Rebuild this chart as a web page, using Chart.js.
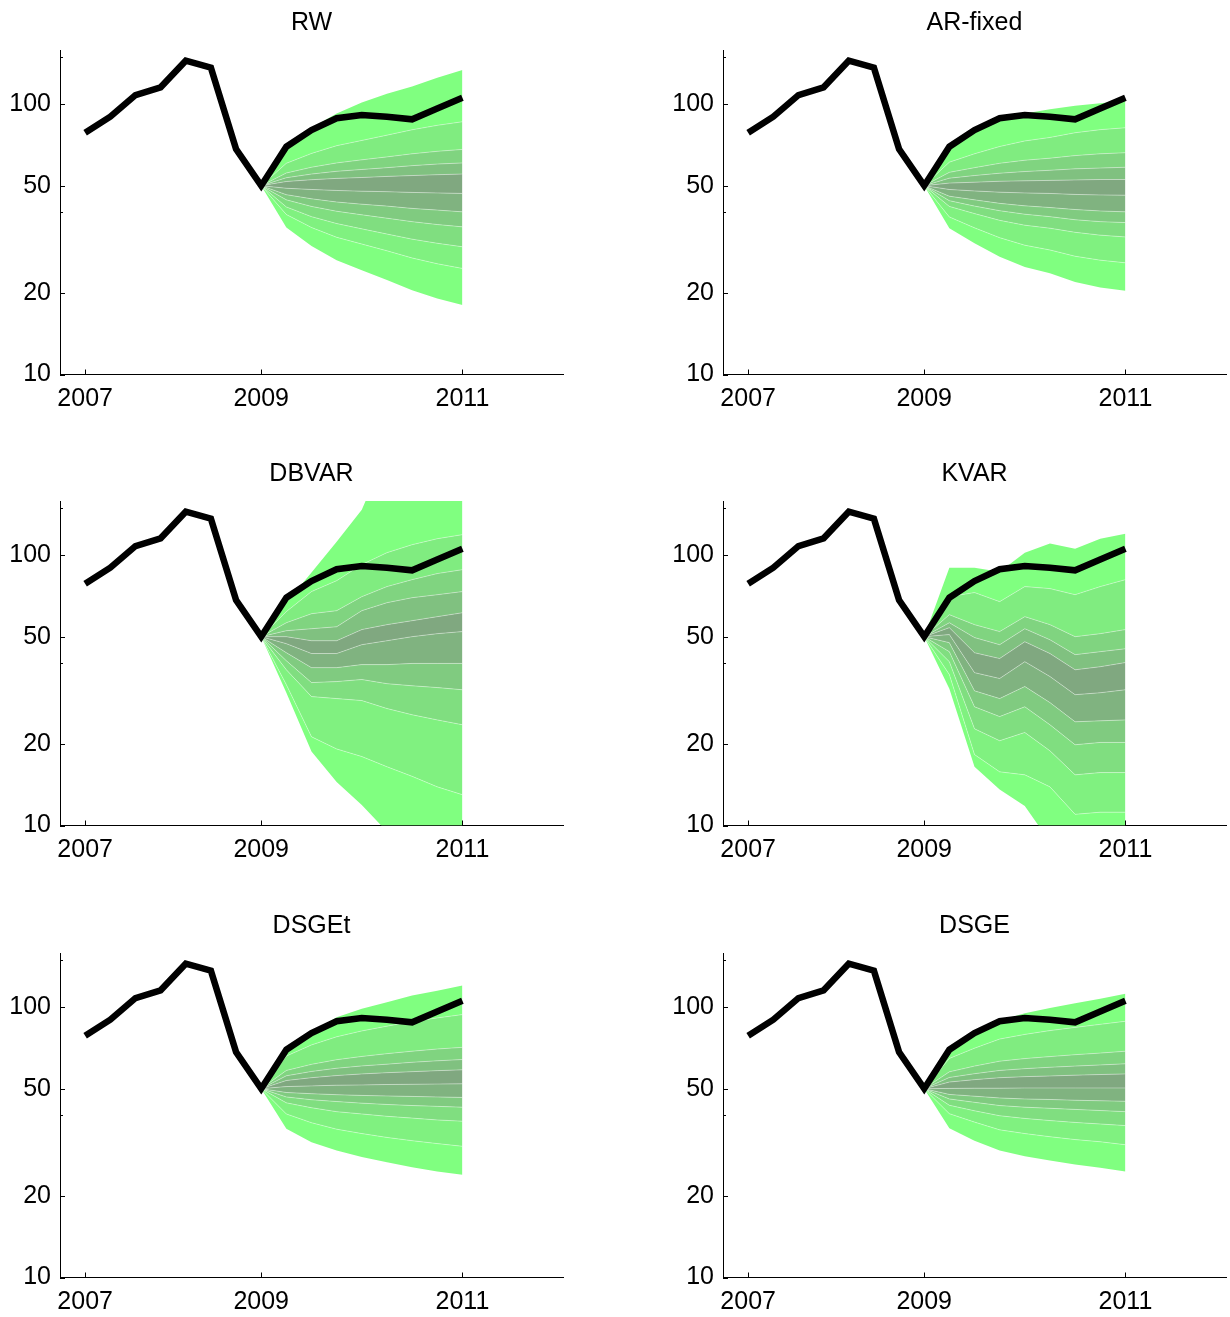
<!DOCTYPE html>
<html><head><meta charset="utf-8">
<script src="https://cdn.jsdelivr.net/npm/chart.js@4.4.0/dist/chart.umd.min.js"></script>
<style>
html,body{margin:0;padding:0;background:#fff;overflow:hidden;width:1230px;height:1317px;}
.panel{position:absolute;width:567px;height:451px;}
canvas{display:block;}
</style></head><body>
<div class="panel" style="left:0px;top:0px"><canvas id="c0" width="567" height="451"></canvas></div>
<div class="panel" style="left:663px;top:0px"><canvas id="c1" width="567" height="451"></canvas></div>
<div class="panel" style="left:0px;top:451px"><canvas id="c2" width="567" height="451"></canvas></div>
<div class="panel" style="left:663px;top:451px"><canvas id="c3" width="567" height="451"></canvas></div>
<div class="panel" style="left:0px;top:903px"><canvas id="c4" width="567" height="451"></canvas></div>
<div class="panel" style="left:663px;top:903px"><canvas id="c5" width="567" height="451"></canvas></div>
<script>
// ---------- data ----------
const quarters = [0,1,2,3,4,5,6,7,8,9,10,11,12,13,14,15];
const actual = [78.5, 90.0, 108.2, 115.6, 145.0, 136.6, 68.3, 50.0, 69.7, 80.3, 88.8, 91.3, 90.0, 88.0, 96.6, 105.8];
const fanX = [7,8,9,10,11,12,13,14,15];
const xTickPos = [0, 7, 15];
const xTickLabels = ['2007','2009','2011'];
const yMajorTicks = [10, 20, 50, 100];
const yMinorTicks = [40, 150];
const panelTitles = ['RW','AR-fixed','DBVAR','KVAR','DSGEt','DSGE'];

// fan edges, lowest to highest, one row per edge, values at fanX
const rwBands = [
  [50, 35.0, 29.9, 26.5, 24.3, 22.4, 20.5, 19.1, 18.1],
  [50, 39.1, 35.0, 32.2, 30.4, 28.7, 27.0, 25.7, 24.7],
  [50, 41.7, 38.4, 36.2, 34.6, 33.1, 31.7, 30.6, 29.7],
  [50, 44.3, 41.9, 40.2, 39.0, 37.9, 36.8, 35.9, 35.2],
  [50, 46.3, 44.7, 43.5, 42.7, 42.0, 41.2, 40.6, 40.0],
  [50, 48.9, 48.4, 48.0, 47.7, 47.5, 47.2, 47.0, 46.8],
  [50, 51.8, 52.6, 53.2, 53.6, 54.1, 54.5, 54.9, 55.2],
  [50, 53.5, 55.2, 56.5, 57.4, 58.3, 59.3, 60.1, 60.7],
  [50, 55.7, 58.5, 60.7, 62.3, 63.9, 65.6, 67.0, 68.1],
  [50, 60.5, 65.8, 70.3, 73.5, 76.9, 80.5, 83.6, 86.2],
  [50, 70.3, 81.9, 92.4, 101.5, 109.5, 116.3, 125.5, 134.0]
];
const arBands = [
  [50, 34.8, 30.6, 27.3, 25.0, 23.7, 22.0, 21.0, 20.4],
  [50, 38.3, 34.9, 32.1, 30.1, 28.9, 27.4, 26.5, 25.9],
  [50, 41.9, 39.4, 37.2, 35.7, 34.8, 33.6, 32.8, 32.3],
  [50, 44.0, 42.0, 40.4, 39.2, 38.4, 37.4, 36.8, 36.5],
  [50, 45.7, 44.3, 43.0, 42.1, 41.5, 40.8, 40.3, 40.0],
  [50, 48.4, 47.8, 47.3, 47.0, 46.8, 46.4, 46.2, 46.1],
  [50, 51.1, 51.5, 51.9, 52.1, 52.3, 52.5, 52.7, 52.7],
  [50, 53.3, 54.5, 55.6, 56.4, 57.0, 57.7, 58.1, 58.5],
  [50, 56.0, 58.3, 60.5, 62.1, 63.2, 64.6, 65.6, 66.2],
  [50, 61.1, 65.6, 69.8, 73.2, 75.4, 78.5, 80.6, 81.9],
  [50, 69.1, 79.3, 87.0, 92.4, 96.0, 98.9, 101.0, 103.2]
];
const dbvarBands = [
  [50, 31.0, 18.8, 14.5, 11.9, 9.5, 8.0, 7.0, 6.2],
  [50, 33.2, 21.3, 19.2, 18.0, 16.5, 15.2, 13.9, 13.0],
  [50, 37.7, 30.0, 29.5, 29.0, 27.1, 25.7, 24.6, 23.6],
  [50, 40.7, 33.8, 34.1, 34.7, 33.5, 32.9, 32.4, 31.8],
  [50, 43.6, 38.4, 38.4, 39.4, 39.4, 39.8, 39.8, 39.8],
  [50, 47.1, 43.3, 43.3, 46.7, 48.3, 50.0, 51.3, 52.2],
  [50, 50.0, 48.3, 48.3, 53.1, 55.4, 57.3, 59.3, 61.3],
  [50, 52.6, 53.5, 54.4, 62.4, 66.8, 69.7, 71.5, 73.4],
  [50, 56.3, 60.8, 62.4, 70.3, 76.6, 81.3, 85.6, 88.5],
  [50, 61.9, 73.4, 80.6, 92.4, 102.3, 109.5, 115.2, 119.3],
  [50, 66.8, 86.3, 112.3, 147.6, 242, 275, 312, 355]
];
const kvarBands = [
  [50, 32.1, 16.5, 13.6, 11.8, 8.7, 7.4, 8.0, 7.8],
  [50, 36.2, 18.3, 15.8, 15.4, 13.9, 11.0, 11.2, 11.2],
  [50, 40.4, 22.8, 20.6, 22.1, 18.9, 15.4, 15.7, 15.7],
  [50, 44.0, 27.5, 25.3, 27.5, 23.6, 19.9, 20.3, 20.3],
  [50, 47.5, 31.5, 29.5, 32.7, 28.5, 24.2, 24.4, 24.6],
  [50, 50.9, 36.8, 35.0, 40.4, 35.6, 30.5, 31.0, 31.8],
  [50, 54.0, 43.6, 41.5, 47.9, 43.3, 37.7, 38.7, 40.1],
  [50, 56.3, 49.6, 46.7, 53.5, 48.7, 42.9, 44.0, 45.1],
  [50, 60.3, 55.4, 52.2, 59.3, 55.4, 50.0, 51.3, 53.1],
  [50, 70.3, 72.8, 67.4, 76.6, 75.3, 71.5, 76.6, 81.3],
  [50, 90.0, 90.0, 87.0, 102.3, 110.5, 105.8, 115.2, 120.3]
];
const dsgetBands = [
  [50, 35.5, 31.7, 29.5, 27.9, 26.7, 25.6, 24.7, 24.0],
  [50, 40.3, 37.4, 35.4, 34.1, 33.0, 32.1, 31.3, 30.6],
  [50, 44.3, 42.5, 41.1, 40.3, 39.5, 38.9, 38.3, 37.9],
  [50, 46.6, 45.5, 44.8, 44.2, 43.7, 43.3, 43.0, 42.7],
  [50, 48.4, 47.9, 47.5, 47.2, 47.0, 46.8, 46.6, 46.4],
  [50, 50.9, 51.2, 51.5, 51.6, 51.8, 51.9, 52.0, 52.1],
  [50, 53.6, 54.9, 55.9, 56.7, 57.3, 57.8, 58.3, 58.7],
  [50, 55.8, 57.9, 59.5, 60.7, 61.6, 62.6, 63.4, 64.1],
  [50, 58.4, 61.5, 64.0, 65.8, 67.4, 68.8, 70.1, 71.1],
  [50, 66.0, 72.6, 77.8, 81.8, 85.2, 88.5, 91.4, 94.0],
  [50, 71.1, 80.8, 91.8, 98.7, 104.4, 110.5, 115.3, 120.4]
];
const dsgeBands = [
  [50, 35.7, 32.1, 29.5, 28.1, 27.1, 26.2, 25.5, 24.7],
  [50, 40.4, 37.6, 35.2, 34.1, 33.2, 32.4, 31.8, 31.0],
  [50, 43.4, 41.4, 39.7, 38.8, 38.1, 37.5, 37.0, 36.5],
  [50, 45.8, 44.5, 43.3, 42.7, 42.3, 41.9, 41.5, 41.1],
  [50, 47.6, 46.9, 46.2, 45.8, 45.6, 45.3, 45.1, 44.9],
  [50, 50.1, 50.2, 50.2, 50.3, 50.3, 50.3, 50.3, 50.3],
  [50, 52.9, 54.0, 54.9, 55.4, 55.7, 56.1, 56.4, 56.7],
  [50, 55.0, 56.8, 58.4, 59.3, 60.0, 60.6, 61.2, 61.8],
  [50, 57.7, 60.6, 63.2, 64.6, 65.7, 66.8, 67.7, 68.8],
  [50, 64.7, 70.6, 76.3, 79.4, 82.0, 84.3, 86.5, 88.8],
  [50, 70.2, 79.8, 89.3, 95.1, 99.5, 103.5, 107.5, 112.2]
];
const panelBands = [rwBands, arBands, dbvarBands, kvarBands, dsgetBands, dsgeBands];

// ---------- styles ----------
const bandGreen = [255, 241, 222, 203, 179, 168, 193, 212, 236, 255];
const FONT = '"Liberation Sans", Arial, Helvetica, sans-serif';

const axisDecor = {
  id: 'axisDecor',
  afterDraw(chart, args, opts) {
    const ctx = chart.ctx, xs = chart.scales.x, ys = chart.scales.y, a = chart.chartArea;
    ctx.save();
    ctx.strokeStyle = '#000';
    ctx.lineWidth = 1;
    ctx.beginPath();
    xTickPos.forEach(v => {
      const px = Math.round(xs.getPixelForValue(v)) + 0.5;
      ctx.moveTo(px, a.bottom); ctx.lineTo(px, a.bottom - 5);
    });
    yMajorTicks.forEach(v => {
      const py = Math.round(ys.getPixelForValue(v)) + 0.5;
      ctx.moveTo(a.left, py); ctx.lineTo(a.left + 5, py);
    });
    yMinorTicks.forEach(v => {
      const py = Math.round(ys.getPixelForValue(v)) + 0.5;
      ctx.moveTo(a.left, py); ctx.lineTo(a.left + 3, py);
    });
    ctx.stroke();
    ctx.fillStyle = '#000';
    ctx.font = '25px ' + FONT;
    ctx.textAlign = 'center';
    ctx.textBaseline = 'alphabetic';
    ctx.fillText(opts.title, (a.left + a.right) / 2, 30);
    ctx.restore();
  }
};

function makeChart(idx) {
  const bands = panelBands[idx];
  const datasets = [{
    label: 'actual',
    data: actual.map((v, i) => ({x: quarters[i], y: v})),
    borderColor: '#000', borderWidth: 6.5, pointRadius: 0, fill: false,
    borderJoinStyle: 'miter', borderCapStyle: 'butt', tension: 0
  }];
  bands.forEach((edge, k) => {
    const outer = (k === 0 || k === bands.length - 1);
    datasets.push({
      label: 'edge' + k,
      data: edge.map((v, i) => ({x: fanX[i], y: v})),
      borderColor: outer ? 'rgba(0,0,0,0)' : 'rgba(255,255,255,0.45)',
      borderWidth: outer ? 0 : 0.8,
      pointRadius: 0, tension: 0,
      fill: k === 0 ? false : '-1',
      backgroundColor: k === 0 ? 'rgba(0,0,0,0)' : 'rgb(128,' + bandGreen[k - 1] + ',128)'
    });
  });
  const tickFont = {family: FONT, size: 25};
  return new Chart(document.getElementById('c' + idx), {
    type: 'line',
    data: {datasets},
    options: {
      responsive: false, animation: false, devicePixelRatio: 1,
      layout: {padding: {top: 50, right: 4, left: 0, bottom: 0}},
      plugins: {legend: {display: false}, tooltip: {enabled: false}, axisDecor: {title: panelTitles[idx]}},
      scales: {
        x: {
          type: 'linear', min: -1, max: 19,
          grid: {display: false, drawTicks: false},
          border: {display: true, color: '#000', width: 1},
          ticks: {font: tickFont, color: '#000', padding: 10, autoSkip: false, maxRotation: 0,
            callback: v => { const i = xTickPos.indexOf(v); return i >= 0 ? xTickLabels[i] : ''; }},
          afterBuildTicks: s => { s.ticks = xTickPos.map(v => ({value: v})); },
          afterFit: s => { s.height = 76.5; }
        },
        y: {
          type: 'logarithmic', min: 10, max: 158.9,
          grid: {display: false, drawTicks: false},
          border: {display: true, color: '#000', width: 1},
          ticks: {font: tickFont, color: '#000', padding: 9, autoSkip: false,
            callback: v => yMajorTicks.includes(v) ? String(v) : ''},
          afterBuildTicks: s => { s.ticks = yMajorTicks.map(v => ({value: v})); },
          afterFit: s => { s.width = 60; }
        }
      }
    },
    plugins: [axisDecor]
  });
}
for (let i = 0; i < 6; i++) makeChart(i);
</script>
</body></html>
